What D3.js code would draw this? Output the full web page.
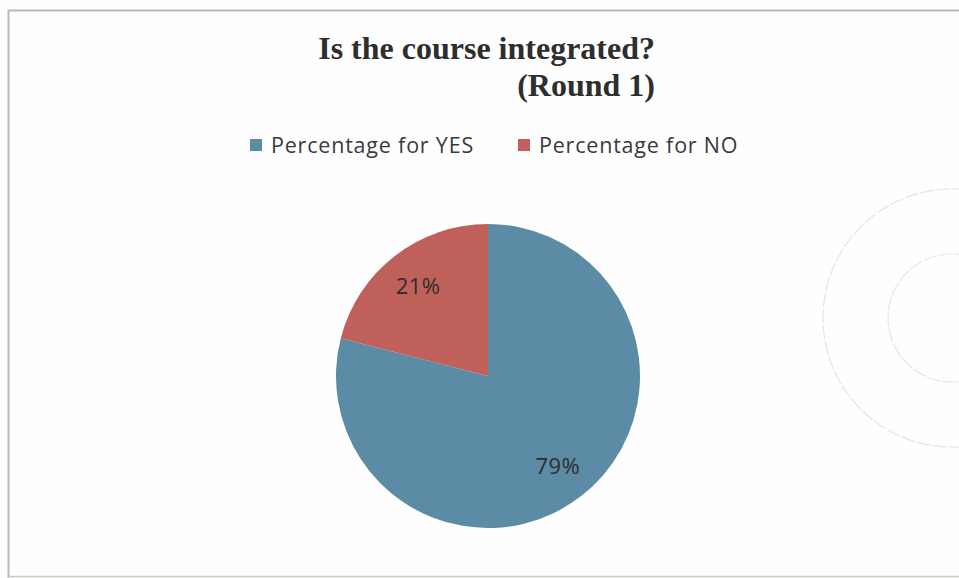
<!DOCTYPE html>
<html lang="en">
<head>
<meta charset="UTF-8">
<title>Is the course integrated? (Round 1)</title>
<script src="https://cdnjs.cloudflare.com/ajax/libs/d3/7.8.5/d3.min.js"></script>
<style>
  body { margin: 0; background: #fff; }
  svg { display: block; }
</style>
</head>
<body>
<svg id="chart"></svg>
<script>
// data
var categories = ["Percentage for YES", "Percentage for NO"];
var values = [79, 21];
var colors = ["#5b8ba5", "#c0605a"];

var width = 959, height = 578;
var svg = d3.select("#chart").attr("width", width).attr("height", height);

svg.append("rect").attr("width", width).attr("height", height).attr("fill", "#fefefe");

// chart border (scanned frame)
svg.append("path")
    .attr("d", "M8.5," + (height + 2) + "V10.5H" + (width + 2))
    .attr("fill", "none").attr("stroke", "#b9b9b4").attr("stroke-width", 2);
svg.append("line")
    .attr("x1", 8).attr("x2", width).attr("y1", 576.5).attr("y2", 576.5)
    .attr("stroke", "#c8c8c4").attr("stroke-width", 1.5);

// faint library stamp on the right
var stamp = svg.append("g").attr("transform", "translate(952,318)")
    .attr("fill", "none").attr("stroke", "#f0dcf0").attr("stroke-width", 1.2)
    .attr("stroke-dasharray", "14,2");
stamp.append("circle").attr("r", 129);
stamp.append("circle").attr("r", 64);

// title
var title = svg.append("text")
    .attr("font-family", "'Liberation Serif', 'Times New Roman', serif")
    .attr("font-weight", "bold").attr("font-size", 32)
    .attr("fill", "#2e2e2e").attr("text-anchor", "end");
title.append("tspan").attr("x", 655).attr("y", 59).text("Is the course integrated?");
title.append("tspan").attr("x", 655).attr("y", 96).text("(Round 1)");

// legend
var legendX = d3.scaleOrdinal().domain(categories).range([250, 518]);
var legend = svg.selectAll(".legend").data(categories).enter().append("g")
    .attr("class", "legend")
    .attr("transform", function (d) { return "translate(" + legendX(d) + ",139)"; });
legend.append("rect").attr("width", 12).attr("height", 12)
    .attr("fill", function (d, i) { return colors[i]; });
legend.append("text").attr("x", 21).attr("y", 14)
    .attr("font-family", "'Open Sans', 'Noto Sans', sans-serif").attr("font-size", 21.5)
    .attr("letter-spacing", 0.8)
    .attr("fill", "#3a3a3a").text(function (d) { return d; });

// pie
var cx = 488, cy = 376, radius = 152;
var pie = d3.pie().sort(null).value(function (d) { return d; });
var arc = d3.arc().innerRadius(0).outerRadius(radius);
var labelArc = d3.arc().innerRadius(radius * 0.75).outerRadius(radius * 0.75);
var total = d3.sum(values);

var g = svg.append("g").attr("transform", "translate(" + cx + "," + cy + ")");
var slices = pie(values);
g.selectAll("path").data(slices).enter().append("path")
    .attr("d", arc)
    .attr("fill", function (d, i) { return colors[i]; });

g.selectAll(".lbl").data(slices).enter().append("text")
    .attr("class", "lbl")
    .attr("transform", function (d) { return "translate(" + labelArc.centroid(d) + ")"; })
    .attr("text-anchor", "middle").attr("dy", "0.35em")
    .attr("font-family", "'Open Sans', 'Noto Sans', sans-serif").attr("font-size", 22)
    .attr("letter-spacing", 0.5)
    .attr("fill", "#2e2e2e")
    .text(function (d) { return Math.round(d.value / total * 100) + "%"; });
</script>
</body>
</html>
